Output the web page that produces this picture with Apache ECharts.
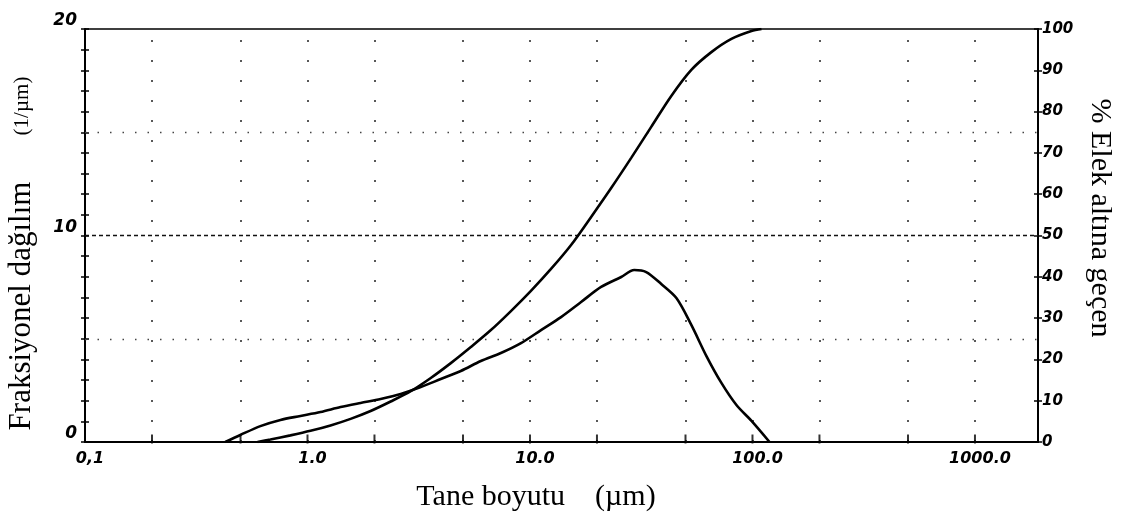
<!DOCTYPE html>
<html>
<head>
<meta charset="utf-8">
<script src="https://cdn.jsdelivr.net/npm/echarts@6/dist/echarts.min.js"></script>
<style>
  html, body { margin: 0; padding: 0; background: #fff; }
  #chart { width: 1122px; height: 522px; }
</style>
</head>
<body>
<div id="chart"></div>
<script>
// Particle size (µm) and fractional distribution (1/µm), left axis
const fracSize  = [0.427, 0.499, 0.614, 0.756, 0.930, 1.144, 1.408, 1.733, 2.132, 2.624, 3.228, 3.972, 4.888, 6.014, 7.40, 9.11, 11.21, 13.79, 16.97, 20.88, 25.70, 29.41, 33.3, 38.9, 45.5, 53.1, 62.1, 72.5, 84.7, 99.0, 119.3];
const fracValue = [0, 0.34, 0.77, 1.07, 1.26, 1.45, 1.69, 1.89, 2.08, 2.32, 2.66, 3.05, 3.44, 3.92, 4.31, 4.79, 5.42, 6.05, 6.78, 7.51, 7.99, 8.33, 8.23, 7.65, 6.97, 5.67, 4.16, 2.86, 1.79, 1.02, 0];

// Particle size (µm) and cumulative % passing, right axis
const passSize  = [0.596, 0.681, 0.838, 1.032, 1.269, 1.562, 1.922, 2.365, 2.911, 3.582, 4.407, 5.423, 6.674, 8.21, 10.10, 12.43, 15.30, 18.83, 23.17, 28.51, 35.07, 43.16, 53.11, 65.35, 80.42, 98.97, 109.8];
const passValue = [0, 0.6, 1.6, 2.7, 4.0, 5.6, 7.5, 9.8, 12.3, 15.5, 19.1, 23.0, 27.1, 31.7, 36.6, 41.9, 47.7, 54.5, 61.5, 68.8, 76.3, 83.8, 90.1, 94.4, 97.6, 99.5, 100];

// Axis ranges, ticks and grid positions
const sizeMin = 0.1, sizeMax = 1920;
const sizeTicks = [0.2, 0.5, 1, 2, 5, 10, 20, 50, 100, 200, 500, 1000];
const sizeGrid  = [0.2, 0.5, 1, 2, 5, 10, 20, 50, 100, 200, 500, 1000];
const sizeLabels = { 0.1: '0,1', 1: '1.0', 10: '10.0', 100: '100.0', 1000: '1000.0' };
const leftLabels = [0, 10, 20];
const fracGridDotted = [5, 15];
const fracGridDashed = [10];

const xLabel = 'Tane boyutu    (µm)';
const yLeftLabel = 'Fraksiyonel dağılım';
const yLeftUnit = '(1/µm)';
const yRightLabel = '% Elek altına geçen';

const zip = (a, b) => a.map((v, i) => [v, b[i]]);

const chart = echarts.init(document.getElementById('chart'), null, { renderer: 'canvas' });

const tickFont = {
  fontFamily: 'DejaVu Sans', fontStyle: 'italic', fontWeight: 'bold', color: '#000'
};

const option = {
  backgroundColor: '#fff',
  animation: false,
  grid: {
    left: 85, right: 84, top: 29, bottom: 80,
    show: true, borderColor: '#000', borderWidth: 1.5, backgroundColor: 'transparent'
  },
  xAxis: {
    type: 'log', logBase: 10, min: sizeMin, max: sizeMax,
    axisLine: { lineStyle: { color: '#000', width: 2 } },
    axisTick: { show: false },
    splitLine: { show: false },
    minorTick: { show: false },
    axisLabel: Object.assign({
      fontSize: 16, margin: 9, padding: [0, 0, 0, 10],
      formatter: v => sizeLabels[+v.toPrecision(6)] !== undefined ? sizeLabels[+v.toPrecision(6)] : ''
    }, tickFont)
  },
  yAxis: [
    {
      type: 'value', position: 'left', min: 0, max: 20, interval: 1,
      axisLine: { show: true, lineStyle: { color: '#000', width: 2 } },
      axisTick: { show: true, length: 4, lineStyle: { color: '#000', width: 1.5 } },
      splitLine: { show: false },
      axisLabel: Object.assign({
        fontSize: 17, margin: 8, verticalAlign: 'bottom', lineHeight: 16,
        formatter: v => leftLabels.indexOf(v) >= 0 ? String(v) : ''
      }, tickFont)
    },
    {
      type: 'value', position: 'right', min: 0, max: 100, interval: 10,
      axisLine: { show: true, lineStyle: { color: '#000', width: 2 } },
      axisTick: { show: true, length: 4, lineStyle: { color: '#000', width: 1.5 } },
      splitLine: { show: false },
      axisLabel: Object.assign({
        fontSize: 15, margin: 4, verticalAlign: 'middle'
      }, tickFont)
    },
    {
      type: 'value', position: 'left', min: 0, max: 20, interval: 1,
      axisLine: { show: false },
      axisTick: { show: true, inside: true, length: 4, lineStyle: { color: '#000', width: 1.5 } },
      axisLabel: { show: false }, splitLine: { show: false }
    },
    {
      type: 'value', position: 'right', min: 0, max: 100, interval: 10,
      axisLine: { show: false },
      axisTick: { show: true, inside: true, length: 4, lineStyle: { color: '#000', width: 1.5 } },
      axisLabel: { show: false }, splitLine: { show: false }
    }
  ],
  graphic: [
    {
      type: 'text', x: 22, y: 306, rotation: Math.PI / 2,
      style: { text: yLeftLabel, font: '31px "Liberation Serif"', fill: '#000', textAlign: 'center', textVerticalAlign: 'middle' }
    },
    {
      type: 'text', x: 22, y: 106, rotation: Math.PI / 2,
      style: { text: yLeftUnit, font: '21px "Liberation Serif"', fill: '#000', textAlign: 'center', textVerticalAlign: 'middle' }
    },
    {
      type: 'text', x: 1100, y: 218, rotation: -Math.PI / 2,
      style: { text: yRightLabel, font: '30px "Liberation Serif"', fill: '#000', textAlign: 'center', textVerticalAlign: 'middle' }
    },
    {
      type: 'text', x: 536, y: 497,
      style: { text: xLabel, font: '30px "Liberation Serif"', fill: '#000', textAlign: 'center', textVerticalAlign: 'middle' }
    }
  ],
  series: [
    {
      name: 'Fraksiyonel dağılım', type: 'line', xAxisIndex: 0, yAxisIndex: 0,
      data: zip(fracSize, fracValue), smooth: 0.3, showSymbol: false,
      lineStyle: { color: '#000', width: 2.6 },
      z: 5,
      markLine: {
        silent: true, symbol: 'none', label: { show: false }, animation: false,
        data: [].concat(
          sizeGrid.map(v => ({ xAxis: v, lineStyle: { type: [2, 18], color: '#222', width: 1.5 } })),
          fracGridDotted.map(v => ({ yAxis: v, lineStyle: { type: [1.5, 11], color: '#444', width: 1.3 } })),
          fracGridDashed.map(v => ({ yAxis: v, lineStyle: { type: [4, 3], color: '#111', width: 1.3 } }))
        )
      }
    },
    {
      name: '% Elek altına geçen', type: 'line', xAxisIndex: 0, yAxisIndex: 1,
      data: zip(passSize, passValue), smooth: 0.3, showSymbol: false,
      lineStyle: { color: '#000', width: 2.6 },
      z: 5
    },
    {
      // short tick marks along the size axis at 1-2-5 steps
      type: 'scatter', xAxisIndex: 0, yAxisIndex: 0, silent: true,
      data: sizeTicks.map(v => [v, 0]),
      symbol: 'rect', symbolSize: [2, 9], symbolOffset: [0, -3],
      itemStyle: { color: '#000' }, z: 6
    }
  ]
};

chart.setOption(option);
</script>
</body>
</html>
